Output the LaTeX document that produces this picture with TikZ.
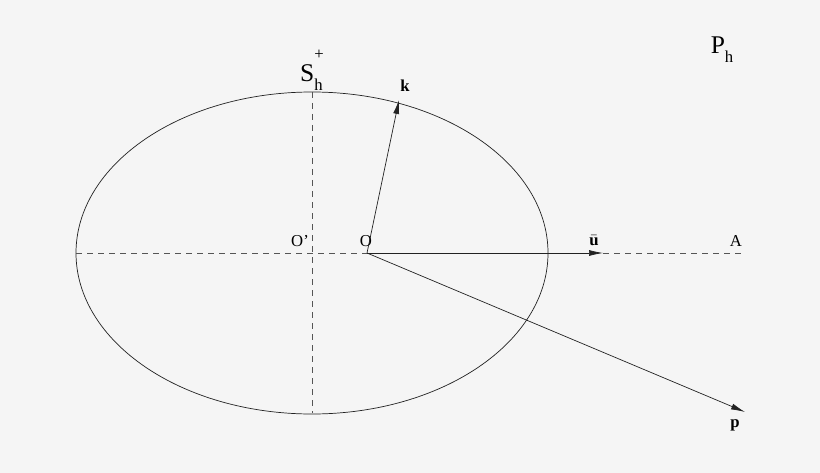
\documentclass[tikz,border=0pt]{standalone}
\usepackage{fontspec}
\setmainfont{Liberation Serif}
\usetikzlibrary{arrows.meta}
\definecolor{bg}{HTML}{F5F5F5}
\definecolor{ink}{HTML}{222222}
\definecolor{dashgray}{HTML}{555555}
\newcommand{\smltxt}{\fontsize{9.5}{10}\selectfont}
\newcommand{\bigtxt}{\fontsize{14.5}{15}\selectfont}

\begin{document}
\begin{tikzpicture}[x=0.2mm, y=-0.2mm, >={Latex[length=2.8mm,width=1.2mm]},
  lbl/.style={inner sep=0pt, font=\smltxt},
  axis/.style={dashgray, thin, dash pattern=on 1.2mm off 1mm}]
          \fill[bg] (0,0) rectangle (820,473);

          % Nodes
          \coordinate (c) at (312,253);
          \coordinate (o) at (367,253);
          \coordinate (left) at (76,253);
          \coordinate (top) at (312,92);
          \coordinate (bot) at (312,413);
          \coordinate (a) at (743,253);
          \coordinate (kt) at (399,100);
          \coordinate (ut) at (603,253);
          \coordinate (pt) at (745,412);

          \node[lbl] (oc) at (300,241) {O’};
          \node[lbl] (ol) at (366,241) {O};
          \node[lbl] (ul) at (594,241) {$\bar{\textbf{u}}$};
          \node[lbl] (al) at (736,241) {A};
          \node[lbl] (kl) at (405,86) {\textbf{k}};
          \node[lbl] (pl) at (735,425) {\textbf{p}};
          \node[inner sep=0pt, font=\bigtxt] (sh) at (312,70)
            {S\rlap{\raisebox{-0.35em}{\smltxt h}}\raisebox{0.85em}{\smltxt +}};
          \node[inner sep=0pt, font=\bigtxt] (ph) at (722,50)
            {P\raisebox{-0.35em}{\smltxt h}};

          % Edges
          \draw[ink, thin] (c) ellipse [x radius=236, y radius=161];
          \draw[axis] (top) -- (bot);
          \draw[axis] (left) -- (o);
          \draw[axis] (ut) -- (a);
          \draw[->, ink, thin] (o) -- (kt);
          \draw[->, ink, thin] (o) -- (ut);
          \draw[->, ink, thin] (o) -- (pt);

        \end{tikzpicture}
\end{document}
